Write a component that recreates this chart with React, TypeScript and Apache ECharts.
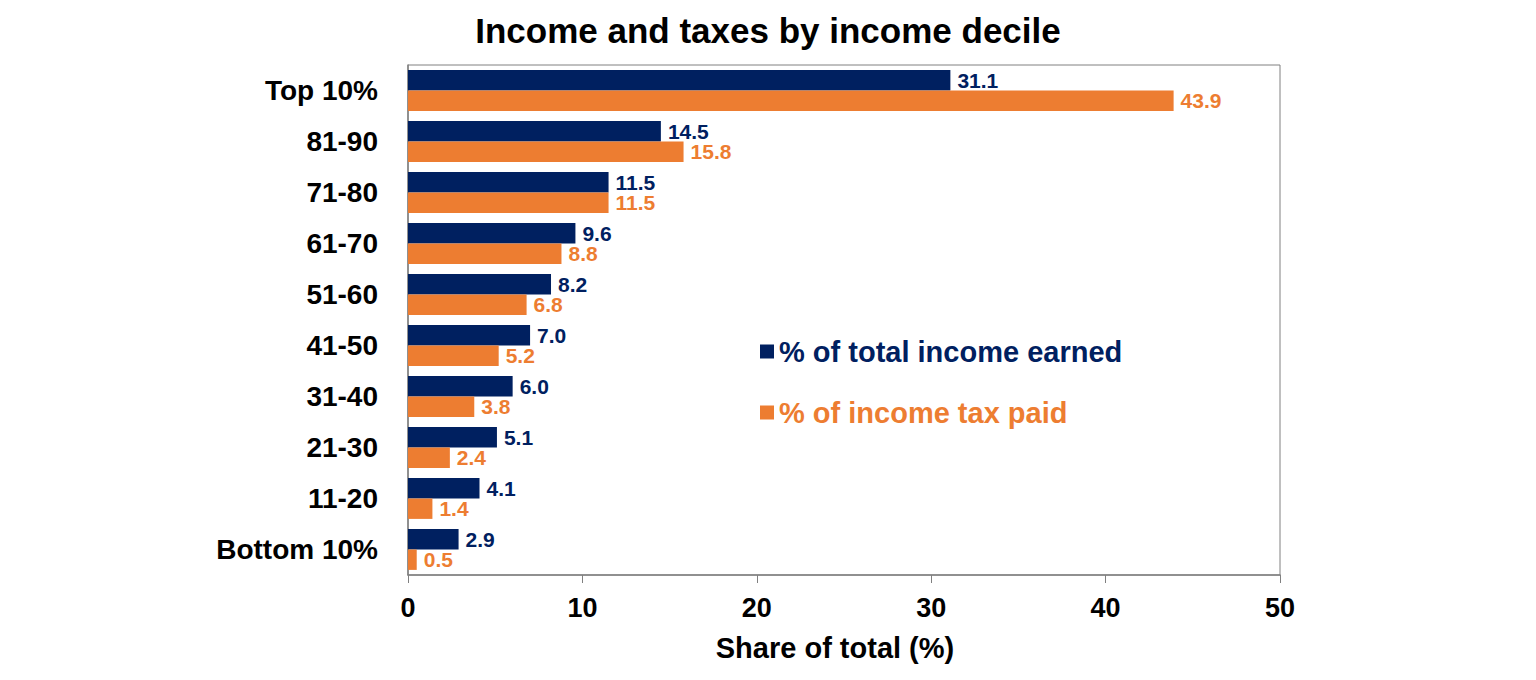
import React, { useEffect, useRef } from 'react';
import * as echarts from 'echarts';

const categories = ['Bottom 10%', '11-20', '21-30', '31-40', '41-50', '51-60', '61-70', '71-80', '81-90', 'Top 10%'];
const incomeShare = [2.9, 4.1, 5.1, 6.0, 7.0, 8.2, 9.6, 11.5, 14.5, 31.1];
const taxShare = [0.5, 1.4, 2.4, 3.8, 5.2, 6.8, 8.8, 11.5, 15.8, 43.9];
const xTicks = [0, 10, 20, 30, 40, 50];

const NAVY = '#002060';
const ORANGE = '#ED7D31';
const FONT = '"Liberation Sans", Arial, sans-serif';

const App: React.FC = () => {
  const chartRef = useRef<HTMLDivElement>(null);

  useEffect(() => {
    if (!chartRef.current) return;
    const chart = echarts.init(chartRef.current, undefined, { renderer: 'svg' });

    const valueLabel = (color: string) => ({
      show: true,
      position: 'right' as const,
      distance: 7,
      formatter: (p: any) => p.value.toFixed(1),
      fontSize: 21,
      lineHeight: 19,
      fontWeight: 'bold' as const,
      color
    });

    const option: echarts.EChartsOption = {
      animation: false,
      textStyle: { fontFamily: FONT },
      title: {
        text: 'Income and taxes by income decile',
        left: 'center',
        top: 8,
        textStyle: { fontSize: 35, fontWeight: 'bold', color: '#000', fontFamily: FONT }
      },
      legend: {
        orient: 'vertical',
        left: 755,
        top: 332,
        itemWidth: 14,
        itemHeight: 14,
        itemGap: 32,
        icon: 'rect',
        data: [
          { name: '% of total income earned', textStyle: { color: NAVY } },
          { name: '% of income tax paid', textStyle: { color: ORANGE } }
        ],
        textStyle: { fontSize: 29, fontWeight: 'bold', fontFamily: FONT },
        selectedMode: false
      },
      grid: {
        left: 408,
        right: 256,
        top: 65,
        bottom: 105,
        show: true,
        borderColor: '#808080',
        borderWidth: 1
      },
      xAxis: {
        type: 'value',
        min: xTicks[0],
        max: xTicks[xTicks.length - 1],
        interval: 10,
        name: 'Share of total (%)',
        nameLocation: 'middle',
        nameGap: 58,
        nameTextStyle: { fontSize: 29, fontWeight: 'bold', color: '#000', padding: [0, 18, 0, 0] },
        axisLine: { show: true, lineStyle: { color: '#808080', width: 1.5 } },
        axisTick: { show: true, length: 8, lineStyle: { color: '#808080' } },
        axisLabel: { fontSize: 27, fontWeight: 'bold', color: '#000', margin: 19 },
        splitLine: { show: false }
      },
      yAxis: {
        type: 'category',
        data: categories,
        axisLine: { show: true, lineStyle: { color: '#808080', width: 1.5 } },
        axisTick: { show: false },
        axisLabel: { fontSize: 28, fontWeight: 'bold', color: '#000', margin: 30 }
      },
      series: [
        {
          name: '% of total income earned',
          type: 'bar',
          data: incomeShare,
          barGap: '0%',
          barCategoryGap: '20%',
          itemStyle: { color: NAVY },
          label: valueLabel(NAVY)
        },
        {
          name: '% of income tax paid',
          type: 'bar',
          data: taxShare,
          barGap: '0%',
          barCategoryGap: '20%',
          itemStyle: { color: ORANGE },
          label: valueLabel(ORANGE)
        }
      ]
    };

    chart.setOption(option);
    return () => {
      chart.dispose();
    };
  }, []);

  return (
    <div
      ref={chartRef}
      style={{ position: 'absolute', left: 0, top: 0, width: '1536px', height: '680px', background: '#fff' }}
    />
  );
};

export default App;
